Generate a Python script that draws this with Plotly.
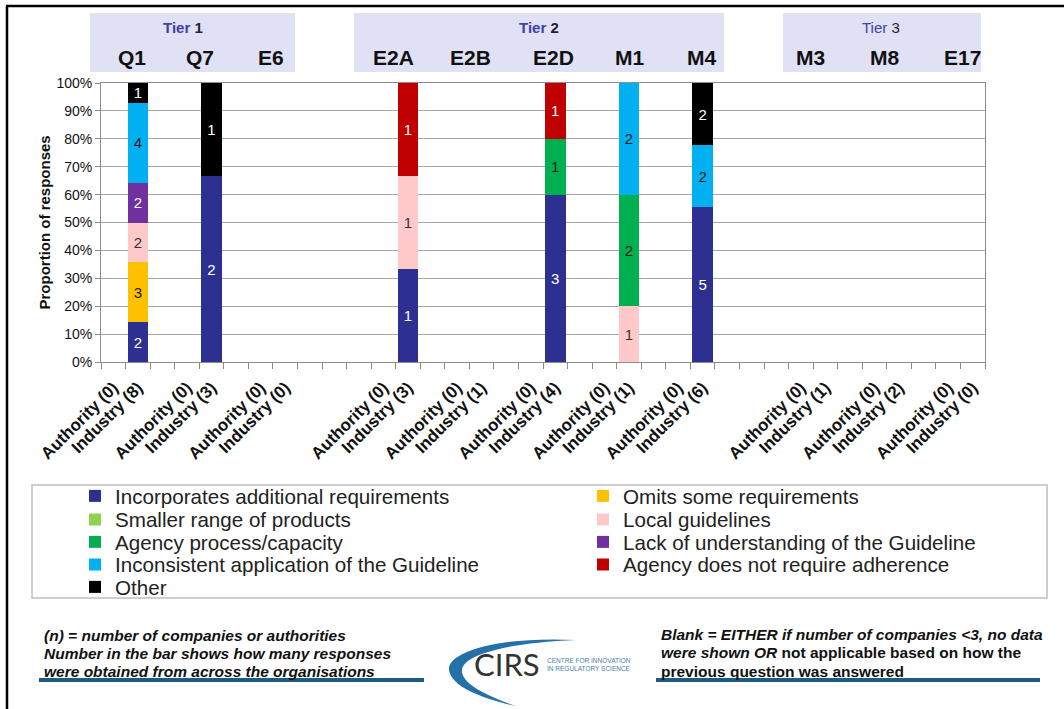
import plotly.graph_objects as go

W, H = 1064, 709
L, R, T, B = 101, 79, 83, 347
PW = W - L - R
PH = H - T - B
FONT = "Arial, Liberation Sans, sans-serif"


def px(x):
    return (x - L) / PW


def py(y):
    return (H - B - y) / PH


# ---------------- data ----------------
tiers = ["Tier 1", "Tier 2", "Tier 3"]
tier_questions = [["Q1", "Q7", "E6"], ["E2A", "E2B", "E2D", "M1", "M4"], ["M3", "M8", "E17"]]
# respondents per question (order: Q1, Q7, E6, E2A, E2B, E2D, M1, M4, M3, M8, E17)
authority_n = [0, 0, 0, 0, 0, 0, 0, 0, 0, 0, 0]
industry_n = [8, 3, 0, 3, 1, 4, 1, 6, 1, 2, 0]
y_title = "Proportion of responses"

series_names = [
    "Incorporates additional requirements",
    "Omits some requirements",
    "Smaller range of products",
    "Local guidelines",
    "Agency process/capacity",
    "Lack of understanding of the Guideline",
    "Inconsistent application of the Guideline",
    "Agency does not require adherence",
    "Other",
]
series_colors = ["#2E3091", "#FFC000", "#92D050", "#FFC9C9", "#00B050",
                 "#7030A0", "#00B0F0", "#C00000", "#000000"]
label_colors = ["#FFFFFF", "#1A1A1A", "#1A1A1A", "#333333", "#1A1A1A",
                "#FFFFFF", "#1A1A1A", "#FFFFFF", "#FFFFFF"]

# number of industry responses per reason (same question order)
incorporates = [2, 2, 0, 1, 0, 3, 0, 5, 0, 0, 0]
omits = [3, 0, 0, 0, 0, 0, 0, 0, 0, 0, 0]
smaller = [0, 0, 0, 0, 0, 0, 0, 0, 0, 0, 0]
local_guidelines = [2, 0, 0, 1, 0, 0, 1, 0, 0, 0, 0]
agency_process = [0, 0, 0, 0, 0, 1, 2, 0, 0, 0, 0]
lack_understanding = [2, 0, 0, 0, 0, 0, 0, 0, 0, 0, 0]
inconsistent = [4, 0, 0, 0, 0, 0, 2, 2, 0, 0, 0]
agency_not_require = [0, 0, 0, 1, 0, 1, 0, 0, 0, 0, 0]
other = [1, 1, 0, 0, 0, 0, 0, 2, 0, 0, 0]
series_values = [incorporates, omits, smaller, local_guidelines, agency_process,
                 lack_understanding, inconsistent, agency_not_require, other]

# ---------------- category slots ----------------
questions = [q for qs in tier_questions for q in qs]
slot_ids, slot_text = [], []
g = 0
k = 0
for ti, qs in enumerate(tier_questions):
    if ti > 0:
        for _ in range(2):
            slot_ids.append(f"gap{g}"); slot_text.append(""); g += 1
    for q in qs:
        slot_ids.append(f"{q} Authority"); slot_text.append(f"Authority ({authority_n[k]})")
        slot_ids.append(f"{q} Industry"); slot_text.append(f"Industry ({industry_n[k]})")
        k += 1
        if k < len(questions):
            slot_ids.append(f"gap{g}"); slot_text.append(""); g += 1

fig = go.Figure()
# register every category slot on the axis
fig.add_trace(go.Scatter(x=slot_ids, y=[0] * len(slot_ids), mode="markers",
                         marker=dict(opacity=0, size=1), showlegend=False, hoverinfo="skip"))

# ---------------- legends (two columns, five rows) ----------------
legend_col_px = [75, 583]
legend_row_px = [496, 519.5, 542, 564.5, 587]
legends = {}
legend_keys = []
for i in range(len(series_names)):
    key = "legend" if i == 0 else f"legend{i + 1}"
    legend_keys.append(key)
    legends[key] = dict(
        orientation="v", xref="container", yref="container",
        x=legend_col_px[i % 2] / W, y=1 - legend_row_px[i // 2] / H,
        xanchor="left", yanchor="middle", traceorder="normal",
        font=dict(family=FONT, size=20.6, color="#222222"),
        bgcolor="rgba(0,0,0,0)", borderwidth=0,
    )

industry_slots = [f"{q} Industry" for q in questions]
for i, name in enumerate(series_names):
    vals = series_values[i]
    fig.add_trace(go.Bar(
        name=name,
        x=industry_slots,
        y=[v if v else None for v in vals],
        text=[str(v) if v else "" for v in vals],
        textposition="inside",
        insidetextanchor="middle",
        textangle=0,
        textfont=dict(family=FONT, size=15, color=label_colors[i]),
        marker=dict(color=series_colors[i], line=dict(width=0)),
        legend=legend_keys[i],
        hoverinfo="skip",
    ))

# ---------------- header (tiers / questions) ----------------
tier_box_px = [(90, 295), (354, 724), (783, 981)]
tier_text_px = [183, 539, 881]
question_px = [132, 200, 271, 393, 470, 553, 629, 701, 810, 884, 962]

shapes = []
annotations = []
for (x0, x1) in tier_box_px:
    shapes.append(dict(type="rect", xref="paper", yref="paper", x0=px(x0), x1=px(x1),
                       y0=py(72), y1=py(13), fillcolor="#E1E1F5", line=dict(width=0), layer="below"))
for i, t in enumerate(tiers):
    word, num = t.split(" ")
    txt = f"<span style='color:#4040A8'>{word}</span> <span style='color:#222233'>{num}</span>"
    if i < 2:
        txt = f"<b>{txt}</b>"
    annotations.append(dict(text=txt, xref="paper", yref="paper", x=px(tier_text_px[i]), y=py(27),
                            showarrow=False, xanchor="center", yanchor="middle",
                            font=dict(family=FONT, size=15)))
for q, xq in zip(questions, question_px):
    annotations.append(dict(text=f"<b>{q}</b>", xref="paper", yref="paper", x=px(xq), y=py(58),
                            showarrow=False, xanchor="center", yanchor="middle",
                            font=dict(family=FONT, size=21, color="#111111")))

# y-axis title
annotations.append(dict(text=f"<b>{y_title}</b>", xref="paper", yref="paper", x=px(44), y=0.5,
                        textangle=-90, showarrow=False, xanchor="center", yanchor="middle",
                        font=dict(family=FONT, size=15, color="#111111")))

# ---------------- frame / legend box / footer ----------------
shapes += [
    dict(type="line", xref="paper", yref="paper", x0=px(7), x1=px(7), y0=py(6), y1=py(712),
         line=dict(color="black", width=2.5)),
    dict(type="line", xref="paper", yref="paper", x0=px(6), x1=px(1070), y0=py(6), y1=py(6),
         line=dict(color="black", width=2.5)),
    dict(type="rect", xref="paper", yref="paper", x0=px(32), x1=px(1047), y0=py(598), y1=py(485),
         line=dict(color="#BFBFBF", width=1.5), fillcolor="rgba(0,0,0,0)"),
    dict(type="line", xref="paper", yref="paper", x0=px(39), x1=px(424), y0=py(680), y1=py(680),
         line=dict(color="#1B5C85", width=4)),
    dict(type="line", xref="paper", yref="paper", x0=px(656), x1=px(1040), y0=py(680), y1=py(680),
         line=dict(color="#1B5C85", width=4)),
]


def P(x, y):
    return f"{px(x):.5f},{py(y):.5f}"


swoosh = (f"M {P(576, 640)} C {P(500, 636)} {P(447, 652)} {P(449, 670)} "
          f"C {P(451, 688)} {P(488, 700)} {P(516, 706)} "
          f"C {P(484, 695)} {P(461, 683)} {P(462, 670)} "
          f"C {P(463, 655)} {P(505, 643)} {P(576, 640)} Z")
shapes.append(dict(type="path", xref="paper", yref="paper", path=swoosh,
                   fillcolor="#2470A8", line=dict(width=0)))

footer_left = [
    "<b><i>(n) = number of companies or authorities</i></b>",
    "<b><i>Number in the bar shows how many responses</i></b>",
    "<b><i>were obtained from across the organisations</i></b>",
]
footer_right = [
    "<b><i>Blank = EITHER if number of companies &lt;3, no data</i></b>",
    "<b><i>were shown OR</i> not applicable based on how the</b>",
    "<b>previous question was answered</b>",
]
for i, t in enumerate(footer_left):
    annotations.append(dict(text=t, xref="paper", yref="paper", x=px(42), y=py(635 + 18 * i),
                            showarrow=False, xanchor="left", yanchor="middle",
                            font=dict(family=FONT, size=15.5, color="#111111")))
for i, t in enumerate(footer_right):
    annotations.append(dict(text=t, xref="paper", yref="paper", x=px(659), y=py(634 + 18.5 * i),
                            showarrow=False, xanchor="left", yanchor="middle",
                            font=dict(family=FONT, size=15.5, color="#111111")))
annotations.append(dict(text="CIRS", xref="paper", yref="paper", x=px(507), y=py(664),
                        showarrow=False, xanchor="center", yanchor="middle",
                        font=dict(family="Lato, " + FONT, size=31, color="#333333")))
annotations.append(dict(text="CENTRE FOR INNOVATION<br>IN REGULATORY SCIENCE", xref="paper", yref="paper",
                        x=px(545), y=py(664), showarrow=False, xanchor="left", yanchor="middle",
                        align="left", font=dict(family=FONT, size=6.5, color="#4A7DAE")))

fig.update_layout(
    width=W, height=H,
    margin=dict(l=L, r=R, t=T, b=B, autoexpand=False),
    paper_bgcolor="white", plot_bgcolor="white",
    barmode="stack", barnorm="percent", bargap=0.165,
    uniformtext=dict(minsize=15, mode="show"),
    font=dict(family=FONT, color="#111111"),
    shapes=shapes, annotations=annotations,
    **legends,
)
fig.update_xaxes(
    type="category", categoryorder="array", categoryarray=slot_ids,
    tickmode="array", tickvals=slot_ids, ticktext=slot_text,
    tickson="boundaries", range=[-0.5, len(slot_ids) - 0.5],
    tickangle=-45, tickfont=dict(family=FONT, size=17, color="#111111", weight="bold"),
    ticks="outside", ticklen=6, tickcolor="#8C8C8C", ticklabelstandoff=8,
    showline=True, linecolor="#8C8C8C", linewidth=1, mirror=True,
    showgrid=False, zeroline=False,
)
fig.update_yaxes(
    range=[0, 100], dtick=10, ticksuffix="%",
    tickfont=dict(family=FONT, size=14, color="#111111"),
    ticks="outside", ticklen=5, tickcolor="#8C8C8C",
    showline=True, linecolor="#8C8C8C", linewidth=1, mirror=True,
    showgrid=True, gridcolor="#A6A6A6", gridwidth=1.2, zeroline=False,
)

fig.write_html("out.html")
